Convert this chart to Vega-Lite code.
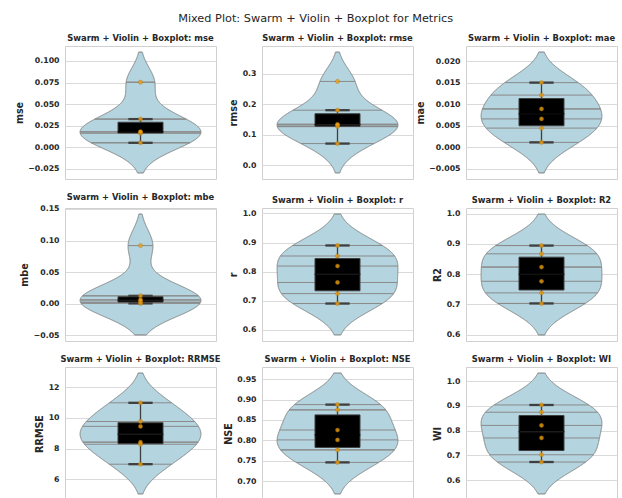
{
  "$schema": "https://vega.github.io/schema/vega-lite/v6.json",
  "padding": {"left": 13, "top": 12, "right": 5, "bottom": 0},
  "title": {"text": "Mixed Plot: Swarm + Violin + Boxplot for Metrics", "fontSize": 11.3, "fontWeight": "normal", "color": "#262626", "anchor": "middle", "offset": 9},
  "datasets": {
    "metrics": [
      {"metric": "mse", "value": 0.00511}, {"metric": "mse", "value": 0.01613}, {"metric": "mse", "value": 0.01742},
      {"metric": "mse", "value": 0.01809}, {"metric": "mse", "value": 0.03258}, {"metric": "mse", "value": 0.07535},
      {"metric": "rmse", "value": 0.0715}, {"metric": "rmse", "value": 0.127}, {"metric": "rmse", "value": 0.132},
      {"metric": "rmse", "value": 0.1345}, {"metric": "rmse", "value": 0.1805}, {"metric": "rmse", "value": 0.2745},
      {"metric": "mae", "value": 0.00108}, {"metric": "mae", "value": 0.0044}, {"metric": "mae", "value": 0.00655},
      {"metric": "mae", "value": 0.00887}, {"metric": "mae", "value": 0.0121}, {"metric": "mae", "value": 0.015},
      {"metric": "mbe", "value": 0.0005}, {"metric": "mbe", "value": 0.002}, {"metric": "mbe", "value": 0.0045},
      {"metric": "mbe", "value": 0.0065}, {"metric": "mbe", "value": 0.0125}, {"metric": "mbe", "value": 0.092},
      {"metric": "r", "value": 0.6897}, {"metric": "r", "value": 0.724}, {"metric": "r", "value": 0.7624},
      {"metric": "r", "value": 0.819}, {"metric": "r", "value": 0.8535}, {"metric": "r", "value": 0.8898},
      {"metric": "R2", "value": 0.7028}, {"metric": "R2", "value": 0.7377}, {"metric": "R2", "value": 0.776},
      {"metric": "R2", "value": 0.823}, {"metric": "R2", "value": 0.8667}, {"metric": "R2", "value": 0.8941},
      {"metric": "RRMSE", "value": 6.98}, {"metric": "RRMSE", "value": 8.28}, {"metric": "RRMSE", "value": 8.42},
      {"metric": "RRMSE", "value": 9.45}, {"metric": "RRMSE", "value": 9.77}, {"metric": "RRMSE", "value": 10.99},
      {"metric": "NSE", "value": 0.7459}, {"metric": "NSE", "value": 0.7766}, {"metric": "NSE", "value": 0.801},
      {"metric": "NSE", "value": 0.8254}, {"metric": "NSE", "value": 0.8749}, {"metric": "NSE", "value": 0.8878},
      {"metric": "WI", "value": 0.6733}, {"metric": "WI", "value": 0.7027}, {"metric": "WI", "value": 0.7707},
      {"metric": "WI", "value": 0.8213}, {"metric": "WI", "value": 0.8747}, {"metric": "WI", "value": 0.904}
    ]
  },
  "columns": 3,
  "spacing": {"row": 12, "column": 0},
  "concat": [
    {
      "title": "Swarm + Violin + Boxplot: mse", "width": 151, "height": 133,
      "layer": [
        {"data": {"name": "metrics"},
         "transform": [{"filter": {"field": "metric", "equal": "mse"}}, {"density": "value", "bandwidth": 0.017499, "extent": [-0.02989, 0.11035], "steps": 1000}, {"stack": "density", "groupby": ["value"], "offset": "center", "as": ["x0", "x1"]}],
         "mark": {"type": "area", "orient": "horizontal", "fill": "#b4d4df", "stroke": "#808080", "strokeWidth": 1},
         "encoding": {"x": {"field": "x0", "type": "quantitative", "scale": {"zero": false, "nice": false, "padding": 15.1}, "axis": null}, "x2": {"field": "x1"},
           "y": {"field": "value", "type": "quantitative", "title": "mse", "scale": {"domain": [-0.0369, 0.11736], "nice": false, "zero": false}, "axis": {"values": [-0.025, 0, 0.025, 0.05, 0.075, 0.1], "tickCount": 12, "format": ".3f", "labelOverlap": false}}}},
        {"data": {"name": "metrics"},
         "transform": [{"filter": {"field": "metric", "equal": "mse"}}, {"density": "value", "bandwidth": 0.017499, "extent": [-0.02989, 0.11035], "steps": 1000}, {"stack": "density", "groupby": ["value"], "offset": "center", "as": ["x0", "x1"]},
           {"filter": {"or": [{"field": "value", "range": [0.005026, 0.005194]}, {"field": "value", "range": [0.016046, 0.016214]}, {"field": "value", "range": [0.017336, 0.017504]}, {"field": "value", "range": [0.018006, 0.018174]}, {"field": "value", "range": [0.032496, 0.032664]}, {"field": "value", "range": [0.075266, 0.075434]}]}}],
         "mark": {"type": "rule", "stroke": "#8a8a8a", "strokeWidth": 1},
         "encoding": {"x": {"field": "x0", "type": "quantitative"}, "x2": {"field": "x1"}, "y": {"field": "value", "type": "quantitative", "title": "mse"}}},
        {"data": {"name": "metrics"}, "transform": [{"filter": {"field": "metric", "equal": "mse"}}],
         "mark": {"type": "boxplot", "extent": 1.5, "size": 45, "outliers": false, "box": {"fill": "black", "stroke": "#3f3f3f", "strokeWidth": 1}, "median": {"stroke": "black"}, "rule": {"stroke": "#3f3f3f", "strokeWidth": 1.3}, "ticks": {"size": 23, "stroke": "#3f3f3f", "strokeWidth": 1.3}},
         "encoding": {"y": {"field": "value", "type": "quantitative", "title": "mse"}}},
        {"data": {"name": "metrics"}, "transform": [{"filter": {"field": "metric", "equal": "mse"}}],
         "mark": {"type": "circle", "fill": "#f0a010", "opacity": 0.8, "size": 18, "stroke": "#9c6a10", "strokeWidth": 0.4},
         "encoding": {"y": {"field": "value", "type": "quantitative", "title": "mse"}}}
      ]
    },
    {
      "title": "Swarm + Violin + Boxplot: rmse", "width": 151, "height": 133,
      "layer": [
        {"data": {"name": "metrics"},
         "transform": [{"filter": {"field": "metric", "equal": "rmse"}}, {"density": "value", "bandwidth": 0.048031, "extent": [-0.024562, 0.370562], "steps": 1000}, {"stack": "density", "groupby": ["value"], "offset": "center", "as": ["x0", "x1"]}],
         "mark": {"type": "area", "orient": "horizontal", "fill": "#b4d4df", "stroke": "#808080", "strokeWidth": 1},
         "encoding": {"x": {"field": "x0", "type": "quantitative", "scale": {"zero": false, "nice": false, "padding": 15.1}, "axis": null}, "x2": {"field": "x1"},
           "y": {"field": "value", "type": "quantitative", "title": "rmse", "scale": {"domain": [-0.044318, 0.390318], "nice": false, "zero": false}, "axis": {"values": [0, 0.1, 0.2, 0.3], "tickCount": 12, "format": ".1f", "labelOverlap": false}}}},
        {"data": {"name": "metrics"},
         "transform": [{"filter": {"field": "metric", "equal": "rmse"}}, {"density": "value", "bandwidth": 0.048031, "extent": [-0.024562, 0.370562], "steps": 1000}, {"stack": "density", "groupby": ["value"], "offset": "center", "as": ["x0", "x1"]},
           {"filter": {"or": [{"field": "value", "range": [0.071263, 0.071737]}, {"field": "value", "range": [0.126763, 0.127237]}, {"field": "value", "range": [0.131763, 0.132237]}, {"field": "value", "range": [0.134263, 0.134737]}, {"field": "value", "range": [0.180263, 0.180737]}, {"field": "value", "range": [0.274263, 0.274737]}]}}],
         "mark": {"type": "rule", "stroke": "#8a8a8a", "strokeWidth": 1},
         "encoding": {"x": {"field": "x0", "type": "quantitative"}, "x2": {"field": "x1"}, "y": {"field": "value", "type": "quantitative", "title": "rmse"}}},
        {"data": {"name": "metrics"}, "transform": [{"filter": {"field": "metric", "equal": "rmse"}}],
         "mark": {"type": "boxplot", "extent": 1.5, "size": 45, "outliers": false, "box": {"fill": "black", "stroke": "#3f3f3f", "strokeWidth": 1}, "median": {"stroke": "black"}, "rule": {"stroke": "#3f3f3f", "strokeWidth": 1.3}, "ticks": {"size": 23, "stroke": "#3f3f3f", "strokeWidth": 1.3}},
         "encoding": {"y": {"field": "value", "type": "quantitative", "title": "rmse"}}},
        {"data": {"name": "metrics"}, "transform": [{"filter": {"field": "metric", "equal": "rmse"}}],
         "mark": {"type": "circle", "fill": "#f0a010", "opacity": 0.8, "size": 18, "stroke": "#9c6a10", "strokeWidth": 0.4},
         "encoding": {"y": {"field": "value", "type": "quantitative", "title": "rmse"}}}
      ]
    },
    {
      "title": "Swarm + Violin + Boxplot: mae", "width": 151, "height": 133,
      "layer": [
        {"data": {"name": "metrics"},
         "transform": [{"filter": {"field": "metric", "equal": "mae"}}, {"density": "value", "bandwidth": 0.0035567, "extent": [-0.0060334, 0.0221134], "steps": 1000}, {"stack": "density", "groupby": ["value"], "offset": "center", "as": ["x0", "x1"]}],
         "mark": {"type": "area", "orient": "horizontal", "fill": "#b4d4df", "stroke": "#808080", "strokeWidth": 1},
         "encoding": {"x": {"field": "x0", "type": "quantitative", "scale": {"zero": false, "nice": false, "padding": 15.1}, "axis": null}, "x2": {"field": "x1"},
           "y": {"field": "value", "type": "quantitative", "title": "mae", "scale": {"domain": [-0.0074407, 0.0235207], "nice": false, "zero": false}, "axis": {"values": [-0.005, 0, 0.005, 0.01, 0.015, 0.02], "tickCount": 12, "format": ".3f", "labelOverlap": false}}}},
        {"data": {"name": "metrics"},
         "transform": [{"filter": {"field": "metric", "equal": "mae"}}, {"density": "value", "bandwidth": 0.0035567, "extent": [-0.0060334, 0.0221134], "steps": 1000}, {"stack": "density", "groupby": ["value"], "offset": "center", "as": ["x0", "x1"]},
           {"filter": {"or": [{"field": "value", "range": [0.0010631, 0.0010969]}, {"field": "value", "range": [0.0043831, 0.0044169]}, {"field": "value", "range": [0.0065331, 0.0065669]}, {"field": "value", "range": [0.0088531, 0.0088869]}, {"field": "value", "range": [0.0120831, 0.0121169]}, {"field": "value", "range": [0.0149831, 0.0150169]}]}}],
         "mark": {"type": "rule", "stroke": "#8a8a8a", "strokeWidth": 1},
         "encoding": {"x": {"field": "x0", "type": "quantitative"}, "x2": {"field": "x1"}, "y": {"field": "value", "type": "quantitative", "title": "mae"}}},
        {"data": {"name": "metrics"}, "transform": [{"filter": {"field": "metric", "equal": "mae"}}],
         "mark": {"type": "boxplot", "extent": 1.5, "size": 45, "outliers": false, "box": {"fill": "black", "stroke": "#3f3f3f", "strokeWidth": 1}, "median": {"stroke": "black"}, "rule": {"stroke": "#3f3f3f", "strokeWidth": 1.3}, "ticks": {"size": 23, "stroke": "#3f3f3f", "strokeWidth": 1.3}},
         "encoding": {"y": {"field": "value", "type": "quantitative", "title": "mae"}}},
        {"data": {"name": "metrics"}, "transform": [{"filter": {"field": "metric", "equal": "mae"}}],
         "mark": {"type": "circle", "fill": "#f0a010", "opacity": 0.8, "size": 18, "stroke": "#9c6a10", "strokeWidth": 0.4},
         "encoding": {"y": {"field": "value", "type": "quantitative", "title": "mae"}}}
      ]
    },
    {
      "title": "Swarm + Violin + Boxplot: mbe", "width": 151, "height": 133,
      "layer": [
        {"data": {"name": "metrics"},
         "transform": [{"filter": {"field": "metric", "equal": "mbe"}}, {"density": "value", "bandwidth": 0.024936, "extent": [-0.049372, 0.141872], "steps": 1000}, {"stack": "density", "groupby": ["value"], "offset": "center", "as": ["x0", "x1"]}],
         "mark": {"type": "area", "orient": "horizontal", "fill": "#b4d4df", "stroke": "#808080", "strokeWidth": 1},
         "encoding": {"x": {"field": "x0", "type": "quantitative", "scale": {"zero": false, "nice": false, "padding": 15.1}, "axis": null}, "x2": {"field": "x1"},
           "y": {"field": "value", "type": "quantitative", "title": "mbe", "scale": {"domain": [-0.058934, 0.151434], "nice": false, "zero": false}, "axis": {"values": [-0.05, 0, 0.05, 0.1, 0.15], "tickCount": 12, "format": ".2f", "labelOverlap": false}}}},
        {"data": {"name": "metrics"},
         "transform": [{"filter": {"field": "metric", "equal": "mbe"}}, {"density": "value", "bandwidth": 0.024936, "extent": [-0.049372, 0.141872], "steps": 1000}, {"stack": "density", "groupby": ["value"], "offset": "center", "as": ["x0", "x1"]},
           {"filter": {"or": [{"field": "value", "range": [0.000385, 0.000615]}, {"field": "value", "range": [0.001885, 0.002115]}, {"field": "value", "range": [0.004385, 0.004615]}, {"field": "value", "range": [0.006385, 0.006615]}, {"field": "value", "range": [0.012385, 0.012615]}, {"field": "value", "range": [0.091885, 0.092115]}]}}],
         "mark": {"type": "rule", "stroke": "#8a8a8a", "strokeWidth": 1},
         "encoding": {"x": {"field": "x0", "type": "quantitative"}, "x2": {"field": "x1"}, "y": {"field": "value", "type": "quantitative", "title": "mbe"}}},
        {"data": {"name": "metrics"}, "transform": [{"filter": {"field": "metric", "equal": "mbe"}}],
         "mark": {"type": "boxplot", "extent": 1.5, "size": 45, "outliers": false, "box": {"fill": "black", "stroke": "#3f3f3f", "strokeWidth": 1}, "median": {"stroke": "black"}, "rule": {"stroke": "#3f3f3f", "strokeWidth": 1.3}, "ticks": {"size": 23, "stroke": "#3f3f3f", "strokeWidth": 1.3}},
         "encoding": {"y": {"field": "value", "type": "quantitative", "title": "mbe"}}},
        {"data": {"name": "metrics"}, "transform": [{"filter": {"field": "metric", "equal": "mbe"}}],
         "mark": {"type": "circle", "fill": "#f0a010", "opacity": 0.8, "size": 18, "stroke": "#9c6a10", "strokeWidth": 0.4},
         "encoding": {"y": {"field": "value", "type": "quantitative", "title": "mbe"}}}
      ]
    },
    {
      "title": "Swarm + Violin + Boxplot: r", "width": 151, "height": 133,
      "layer": [
        {"data": {"name": "metrics"},
         "transform": [{"filter": {"field": "metric", "equal": "r"}}, {"density": "value", "bandwidth": 0.054141, "extent": [0.581418, 0.998082], "steps": 1000}, {"stack": "density", "groupby": ["value"], "offset": "center", "as": ["x0", "x1"]}],
         "mark": {"type": "area", "orient": "horizontal", "fill": "#b4d4df", "stroke": "#808080", "strokeWidth": 1},
         "encoding": {"x": {"field": "x0", "type": "quantitative", "scale": {"zero": false, "nice": false, "padding": 15.1}, "axis": null}, "x2": {"field": "x1"},
           "y": {"field": "value", "type": "quantitative", "title": "r", "scale": {"domain": [0.560585, 1.018915], "nice": false, "zero": false}, "axis": {"values": [0.6, 0.7, 0.8, 0.9, 1.0], "tickCount": 12, "format": ".1f", "labelOverlap": false}}}},
        {"data": {"name": "metrics"},
         "transform": [{"filter": {"field": "metric", "equal": "r"}}, {"density": "value", "bandwidth": 0.054141, "extent": [0.581418, 0.998082], "steps": 1000}, {"stack": "density", "groupby": ["value"], "offset": "center", "as": ["x0", "x1"]},
           {"filter": {"or": [{"field": "value", "range": [0.68945, 0.68995]}, {"field": "value", "range": [0.72375, 0.72425]}, {"field": "value", "range": [0.76215, 0.76265]}, {"field": "value", "range": [0.81875, 0.81925]}, {"field": "value", "range": [0.85325, 0.85375]}, {"field": "value", "range": [0.88955, 0.89005]}]}}],
         "mark": {"type": "rule", "stroke": "#8a8a8a", "strokeWidth": 1},
         "encoding": {"x": {"field": "x0", "type": "quantitative"}, "x2": {"field": "x1"}, "y": {"field": "value", "type": "quantitative", "title": "r"}}},
        {"data": {"name": "metrics"}, "transform": [{"filter": {"field": "metric", "equal": "r"}}],
         "mark": {"type": "boxplot", "extent": 1.5, "size": 45, "outliers": false, "box": {"fill": "black", "stroke": "#3f3f3f", "strokeWidth": 1}, "median": {"stroke": "black"}, "rule": {"stroke": "#3f3f3f", "strokeWidth": 1.3}, "ticks": {"size": 23, "stroke": "#3f3f3f", "strokeWidth": 1.3}},
         "encoding": {"y": {"field": "value", "type": "quantitative", "title": "r"}}},
        {"data": {"name": "metrics"}, "transform": [{"filter": {"field": "metric", "equal": "r"}}],
         "mark": {"type": "circle", "fill": "#f0a010", "opacity": 0.8, "size": 18, "stroke": "#9c6a10", "strokeWidth": 0.4},
         "encoding": {"y": {"field": "value", "type": "quantitative", "title": "r"}}}
      ]
    },
    {
      "title": "Swarm + Violin + Boxplot: R2", "width": 151, "height": 133,
      "layer": [
        {"data": {"name": "metrics"},
         "transform": [{"filter": {"field": "metric", "equal": "R2"}}, {"density": "value", "bandwidth": 0.05205, "extent": [0.5987, 0.9982], "steps": 1000}, {"stack": "density", "groupby": ["value"], "offset": "center", "as": ["x0", "x1"]}],
         "mark": {"type": "area", "orient": "horizontal", "fill": "#b4d4df", "stroke": "#808080", "strokeWidth": 1},
         "encoding": {"x": {"field": "x0", "type": "quantitative", "scale": {"zero": false, "nice": false, "padding": 15.1}, "axis": null}, "x2": {"field": "x1"},
           "y": {"field": "value", "type": "quantitative", "title": "R2", "scale": {"domain": [0.578725, 1.018175], "nice": false, "zero": false}, "axis": {"values": [0.6, 0.7, 0.8, 0.9, 1.0], "tickCount": 12, "format": ".1f", "labelOverlap": false}}}},
        {"data": {"name": "metrics"},
         "transform": [{"filter": {"field": "metric", "equal": "R2"}}, {"density": "value", "bandwidth": 0.05205, "extent": [0.5987, 0.9982], "steps": 1000}, {"stack": "density", "groupby": ["value"], "offset": "center", "as": ["x0", "x1"]},
           {"filter": {"or": [{"field": "value", "range": [0.70256, 0.70304]}, {"field": "value", "range": [0.73746, 0.73794]}, {"field": "value", "range": [0.77576, 0.77624]}, {"field": "value", "range": [0.82276, 0.82324]}, {"field": "value", "range": [0.86646, 0.86694]}, {"field": "value", "range": [0.89386, 0.89434]}]}}],
         "mark": {"type": "rule", "stroke": "#8a8a8a", "strokeWidth": 1},
         "encoding": {"x": {"field": "x0", "type": "quantitative"}, "x2": {"field": "x1"}, "y": {"field": "value", "type": "quantitative", "title": "R2"}}},
        {"data": {"name": "metrics"}, "transform": [{"filter": {"field": "metric", "equal": "R2"}}],
         "mark": {"type": "boxplot", "extent": 1.5, "size": 45, "outliers": false, "box": {"fill": "black", "stroke": "#3f3f3f", "strokeWidth": 1}, "median": {"stroke": "black"}, "rule": {"stroke": "#3f3f3f", "strokeWidth": 1.3}, "ticks": {"size": 23, "stroke": "#3f3f3f", "strokeWidth": 1.3}},
         "encoding": {"y": {"field": "value", "type": "quantitative", "title": "R2"}}},
        {"data": {"name": "metrics"}, "transform": [{"filter": {"field": "metric", "equal": "R2"}}],
         "mark": {"type": "circle", "fill": "#f0a010", "opacity": 0.8, "size": 18, "stroke": "#9c6a10", "strokeWidth": 0.4},
         "encoding": {"y": {"field": "value", "type": "quantitative", "title": "R2"}}}
      ]
    },
    {
      "title": "Swarm + Violin + Boxplot: RRMSE", "width": 151, "height": 133,
      "layer": [
        {"data": {"name": "metrics"},
         "transform": [{"filter": {"field": "metric", "equal": "RRMSE"}}, {"density": "value", "bandwidth": 0.97279, "extent": [5.03442, 12.93558], "steps": 1000}, {"stack": "density", "groupby": ["value"], "offset": "center", "as": ["x0", "x1"]}],
         "mark": {"type": "area", "orient": "horizontal", "fill": "#b4d4df", "stroke": "#808080", "strokeWidth": 1},
         "encoding": {"x": {"field": "x0", "type": "quantitative", "scale": {"zero": false, "nice": false, "padding": 15.1}, "axis": null}, "x2": {"field": "x1"},
           "y": {"field": "value", "type": "quantitative", "title": "RRMSE", "scale": {"domain": [4.63936, 13.33064], "nice": false, "zero": false}, "axis": {"values": [6, 8, 10, 12], "tickCount": 12, "format": "d", "labelOverlap": false}}}},
        {"data": {"name": "metrics"},
         "transform": [{"filter": {"field": "metric", "equal": "RRMSE"}}, {"density": "value", "bandwidth": 0.97279, "extent": [5.03442, 12.93558], "steps": 1000}, {"stack": "density", "groupby": ["value"], "offset": "center", "as": ["x0", "x1"]},
           {"filter": {"or": [{"field": "value", "range": [6.97526, 6.98474]}, {"field": "value", "range": [8.27526, 8.28474]}, {"field": "value", "range": [8.41526, 8.42474]}, {"field": "value", "range": [9.44526, 9.45474]}, {"field": "value", "range": [9.76526, 9.77474]}, {"field": "value", "range": [10.98526, 10.99474]}]}}],
         "mark": {"type": "rule", "stroke": "#8a8a8a", "strokeWidth": 1},
         "encoding": {"x": {"field": "x0", "type": "quantitative"}, "x2": {"field": "x1"}, "y": {"field": "value", "type": "quantitative", "title": "RRMSE"}}},
        {"data": {"name": "metrics"}, "transform": [{"filter": {"field": "metric", "equal": "RRMSE"}}],
         "mark": {"type": "boxplot", "extent": 1.5, "size": 45, "outliers": false, "box": {"fill": "black", "stroke": "#3f3f3f", "strokeWidth": 1}, "median": {"stroke": "black"}, "rule": {"stroke": "#3f3f3f", "strokeWidth": 1.3}, "ticks": {"size": 23, "stroke": "#3f3f3f", "strokeWidth": 1.3}},
         "encoding": {"y": {"field": "value", "type": "quantitative", "title": "RRMSE"}}},
        {"data": {"name": "metrics"}, "transform": [{"filter": {"field": "metric", "equal": "RRMSE"}}],
         "mark": {"type": "circle", "fill": "#f0a010", "opacity": 0.8, "size": 18, "stroke": "#9c6a10", "strokeWidth": 0.4},
         "encoding": {"y": {"field": "value", "type": "quantitative", "title": "RRMSE"}}}
      ]
    },
    {
      "title": "Swarm + Violin + Boxplot: NSE", "width": 151, "height": 133,
      "layer": [
        {"data": {"name": "metrics"},
         "transform": [{"filter": {"field": "metric", "equal": "NSE"}}, {"density": "value", "bandwidth": 0.038738, "extent": [0.668424, 0.965276], "steps": 1000}, {"stack": "density", "groupby": ["value"], "offset": "center", "as": ["x0", "x1"]}],
         "mark": {"type": "area", "orient": "horizontal", "fill": "#b4d4df", "stroke": "#808080", "strokeWidth": 1},
         "encoding": {"x": {"field": "x0", "type": "quantitative", "scale": {"zero": false, "nice": false, "padding": 15.1}, "axis": null}, "x2": {"field": "x1"},
           "y": {"field": "value", "type": "quantitative", "title": "NSE", "scale": {"domain": [0.653581, 0.980119], "nice": false, "zero": false}, "axis": {"values": [0.7, 0.75, 0.8, 0.85, 0.9, 0.95], "tickCount": 12, "format": ".2f", "labelOverlap": false}}}},
        {"data": {"name": "metrics"},
         "transform": [{"filter": {"field": "metric", "equal": "NSE"}}, {"density": "value", "bandwidth": 0.038738, "extent": [0.668424, 0.965276], "steps": 1000}, {"stack": "density", "groupby": ["value"], "offset": "center", "as": ["x0", "x1"]},
           {"filter": {"or": [{"field": "value", "range": [0.745722, 0.746078]}, {"field": "value", "range": [0.776422, 0.776778]}, {"field": "value", "range": [0.800822, 0.801178]}, {"field": "value", "range": [0.825222, 0.825578]}, {"field": "value", "range": [0.874722, 0.875078]}, {"field": "value", "range": [0.887622, 0.887978]}]}}],
         "mark": {"type": "rule", "stroke": "#8a8a8a", "strokeWidth": 1},
         "encoding": {"x": {"field": "x0", "type": "quantitative"}, "x2": {"field": "x1"}, "y": {"field": "value", "type": "quantitative", "title": "NSE"}}},
        {"data": {"name": "metrics"}, "transform": [{"filter": {"field": "metric", "equal": "NSE"}}],
         "mark": {"type": "boxplot", "extent": 1.5, "size": 45, "outliers": false, "box": {"fill": "black", "stroke": "#3f3f3f", "strokeWidth": 1}, "median": {"stroke": "black"}, "rule": {"stroke": "#3f3f3f", "strokeWidth": 1.3}, "ticks": {"size": 23, "stroke": "#3f3f3f", "strokeWidth": 1.3}},
         "encoding": {"y": {"field": "value", "type": "quantitative", "title": "NSE"}}},
        {"data": {"name": "metrics"}, "transform": [{"filter": {"field": "metric", "equal": "NSE"}}],
         "mark": {"type": "circle", "fill": "#f0a010", "opacity": 0.8, "size": 18, "stroke": "#9c6a10", "strokeWidth": 0.4},
         "encoding": {"y": {"field": "value", "type": "quantitative", "title": "NSE"}}}
      ]
    },
    {
      "title": "Swarm + Violin + Boxplot: WI", "width": 151, "height": 133,
      "layer": [
        {"data": {"name": "metrics"},
         "transform": [{"filter": {"field": "metric", "equal": "WI"}}, {"density": "value", "bandwidth": 0.064622, "extent": [0.544056, 1.033244], "steps": 1000}, {"stack": "density", "groupby": ["value"], "offset": "center", "as": ["x0", "x1"]}],
         "mark": {"type": "area", "orient": "horizontal", "fill": "#b4d4df", "stroke": "#808080", "strokeWidth": 1},
         "encoding": {"x": {"field": "x0", "type": "quantitative", "scale": {"zero": false, "nice": false, "padding": 15.1}, "axis": null}, "x2": {"field": "x1"},
           "y": {"field": "value", "type": "quantitative", "title": "WI", "scale": {"domain": [0.519597, 1.057703], "nice": false, "zero": false}, "axis": {"values": [0.6, 0.7, 0.8, 0.9, 1.0], "tickCount": 12, "format": ".1f", "labelOverlap": false}}}},
        {"data": {"name": "metrics"},
         "transform": [{"filter": {"field": "metric", "equal": "WI"}}, {"density": "value", "bandwidth": 0.064622, "extent": [0.544056, 1.033244], "steps": 1000}, {"stack": "density", "groupby": ["value"], "offset": "center", "as": ["x0", "x1"]},
           {"filter": {"or": [{"field": "value", "range": [0.673006, 0.673594]}, {"field": "value", "range": [0.702406, 0.702994]}, {"field": "value", "range": [0.770406, 0.770994]}, {"field": "value", "range": [0.821006, 0.821594]}, {"field": "value", "range": [0.874406, 0.874994]}, {"field": "value", "range": [0.903706, 0.904294]}]}}],
         "mark": {"type": "rule", "stroke": "#8a8a8a", "strokeWidth": 1},
         "encoding": {"x": {"field": "x0", "type": "quantitative"}, "x2": {"field": "x1"}, "y": {"field": "value", "type": "quantitative", "title": "WI"}}},
        {"data": {"name": "metrics"}, "transform": [{"filter": {"field": "metric", "equal": "WI"}}],
         "mark": {"type": "boxplot", "extent": 1.5, "size": 45, "outliers": false, "box": {"fill": "black", "stroke": "#3f3f3f", "strokeWidth": 1}, "median": {"stroke": "black"}, "rule": {"stroke": "#3f3f3f", "strokeWidth": 1.3}, "ticks": {"size": 23, "stroke": "#3f3f3f", "strokeWidth": 1.3}},
         "encoding": {"y": {"field": "value", "type": "quantitative", "title": "WI"}}},
        {"data": {"name": "metrics"}, "transform": [{"filter": {"field": "metric", "equal": "WI"}}],
         "mark": {"type": "circle", "fill": "#f0a010", "opacity": 0.8, "size": 18, "stroke": "#9c6a10", "strokeWidth": 0.4},
         "encoding": {"y": {"field": "value", "type": "quantitative", "title": "WI"}}}
      ]
    }
  ],
  "config": {
    "font": "DejaVu Sans",
    "view": {"stroke": "#d0d0d0", "strokeWidth": 1},
    "axis": {"labelFont": "DejaVu Sans", "labelFontWeight": "bold", "labelFontSize": 7.8, "labelColor": "#262626", "labelOverlap": false,
             "titleFont": "DejaVu Sans", "titleFontWeight": "bold", "titleFontSize": 9.6, "titleColor": "#262626",
             "ticks": false, "domain": false, "labelPadding": 6, "titlePadding": 3.5, "gridColor": "#dadada", "gridWidth": 1},
    "title": {"font": "DejaVu Sans", "fontSize": 8.4, "fontWeight": "bold", "color": "#262626", "offset": 4}
  }
}
